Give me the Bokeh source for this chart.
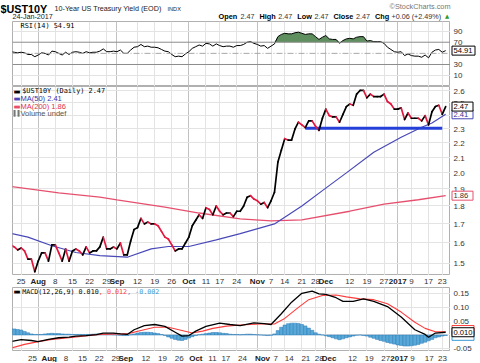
import numpy as np
import pandas as pd
from bokeh.plotting import figure
from bokeh.layouts import column, row
from bokeh.models import Range1d, FixedTicker, Label, Span, Grid
from bokeh.embed import file_html
from bokeh.resources import INLINE
from bokeh.core.properties import value

# ---------------- data ----------------
first_day = "2016-07-20"
last_day = "2017-01-24"
bond_market_holidays = ["2016-09-05", "2016-10-10", "2016-11-11", "2016-11-24",
                        "2016-12-26", "2017-01-02", "2017-01-16"]

close = [
    1.59, 1.58,                          # Jul 20-21
    1.565, 1.575, 1.56, 1.52, 1.52, 1.46,  # Jul 22-29
    1.51, 1.55, 1.55, 1.51, 1.59,        # Aug 1-5
    1.59, 1.55, 1.51, 1.57, 1.51,        # Aug 8-12
    1.56, 1.57, 1.56, 1.54, 1.58,        # Aug 15-19
    1.55, 1.56, 1.56, 1.58, 1.63,        # Aug 22-26
    1.57, 1.57, 1.58, 1.57, 1.60,        # Aug 29-Sep 2
    1.54, 1.54, 1.61, 1.67,              # Sep 6-9
    1.68, 1.73, 1.70, 1.71, 1.70,        # Sep 12-16
    1.70, 1.69, 1.66, 1.63, 1.62,        # Sep 19-23
    1.59, 1.56, 1.57, 1.57, 1.60,        # Sep 26-30
    1.63, 1.69, 1.72, 1.75, 1.73,        # Oct 3-7
    1.79, 1.78, 1.75, 1.80,              # Oct 11-14
    1.77, 1.75, 1.76, 1.76, 1.74,        # Oct 17-21
    1.77, 1.77, 1.80, 1.85, 1.86,        # Oct 24-28
    1.84, 1.83, 1.81, 1.82, 1.79,        # Oct 31-Nov 4
    1.83, 1.88, 2.07, 2.15,              # Nov 7-10
    2.23, 2.22, 2.22, 2.30, 2.35,        # Nov 14-18
    2.33, 2.31, 2.36, 2.36,              # Nov 21-25
    2.32, 2.29, 2.38, 2.45, 2.40,        # Nov 28-Dec 2
    2.39, 2.39, 2.35, 2.41, 2.47,        # Dec 5-9
    2.49, 2.48, 2.57, 2.60, 2.60,        # Dec 12-16
    2.54, 2.57, 2.55, 2.55, 2.55,        # Dec 19-23
    2.57, 2.51, 2.49, 2.45,              # Dec 27-30
    2.45, 2.46, 2.37, 2.42,              # Jan 3-6
    2.38, 2.38, 2.38, 2.36, 2.40,        # Jan 9-13
    2.33, 2.43, 2.47, 2.48,              # Jan 17-20
    2.41, 2.47]                          # Jan 23-24

rsi14 = [
    53, 52,
    51, 52, 51, 48, 48, 44,
    47, 51, 50, 47, 54,
    53, 50, 47, 52, 48,
    52, 53, 52, 50, 53,
    51, 52, 52, 54, 58,
    53, 53, 54, 53, 56,
    50, 50, 56, 61,
    62, 66, 62, 63, 61,
    61, 60, 57, 54, 53,
    48, 44, 45, 44, 49,
    53, 59, 62, 65, 63,
    68, 67, 63, 67,
    64, 62, 63, 63, 61,
    64, 64, 66, 70, 71,
    68, 66, 63, 64, 59,
    63, 67, 80, 84,
    86, 85, 85, 87, 88,
    86, 84, 85, 85,
    80, 75, 79, 82, 76,
    75, 75, 68, 73, 76,
    77, 76, 79, 80, 80,
    72, 73, 71, 71, 71,
    68, 61, 57, 53,
    52, 53, 46, 49,
    46, 45, 45, 43, 47,
    42, 52, 56, 57,
    52, 54.91]

macd_hist = [
    0.024, 0.022,
    0.020, 0.018, 0.013, 0.008, 0.004, 0.002,
    0.002, 0.002, 0.004, 0.005, 0.006,
    0.005, 0.005, 0.004, 0.003, 0.003,
    0.002, 0.002, 0.002, 0.002, 0.002,
    0.002, 0.003, 0.004, 0.004, 0.003,
    0.003, 0.002, 0.001, 0.000, -0.001,
    -0.002, -0.002, 0.001, 0.004,
    0.007, 0.009, 0.010, 0.010, 0.009,
    0.007, 0.005, 0.002, -0.002, -0.007,
    -0.012, -0.016, -0.019, -0.020, -0.016,
    -0.011, -0.006, -0.002, 0.001, 0.003,
    0.005, 0.007, 0.009, 0.009,
    0.008, 0.006, 0.005, 0.003, 0.002,
    0.002, 0.001, 0.002, 0.003, 0.003,
    0.002, 0.001, 0.000, -0.001, -0.002,
    -0.001, 0.004, 0.016, 0.028,
    0.036, 0.041, 0.043, 0.043, 0.042,
    0.038, 0.033, 0.025, 0.017,
    0.008, 0.003, 0.000, -0.003, -0.006,
    -0.010, -0.014, -0.017, -0.014, -0.010,
    -0.007, -0.004, -0.001, 0.000, -0.002,
    -0.004, -0.008, -0.012, -0.016, -0.020,
    -0.023, -0.027, -0.030, -0.033,
    -0.036, -0.038, -0.040, -0.040,
    -0.039, -0.037, -0.034, -0.030, -0.026,
    -0.021, -0.016, -0.010, -0.007,
    -0.004, -0.002]

ma50_dates = ["2016-07-20", "2016-07-27", "2016-08-05", "2016-08-16", "2016-08-25",
              "2016-09-07", "2016-09-16", "2016-09-23", "2016-10-03", "2016-10-14",
              "2016-10-25", "2016-11-08", "2016-11-21", "2016-11-30", "2016-12-09",
              "2016-12-21", "2017-01-04", "2017-01-12", "2017-01-18", "2017-01-24"]
ma50 = [1.650, 1.630, 1.586, 1.552, 1.537, 1.529, 1.570, 1.582, 1.582, 1.616,
        1.648, 1.700, 1.800, 1.890, 2.000, 2.136, 2.240, 2.313, 2.344, 2.410]

ma200_dates = ["2016-07-20", "2016-08-09", "2016-08-25", "2016-09-01", "2016-09-22",
               "2016-10-06", "2016-10-25", "2016-11-07", "2016-11-21", "2016-12-12",
               "2016-12-27", "2017-01-11", "2017-01-24"]
ma200 = [1.915, 1.877, 1.851, 1.835, 1.793, 1.760, 1.728, 1.717, 1.722, 1.770,
         1.810, 1.836, 1.860]

macd_dates = ["2016-07-20", "2016-07-25", "2016-07-28", "2016-08-01", "2016-08-04",
              "2016-08-09", "2016-08-12", "2016-08-16", "2016-08-19", "2016-08-24",
              "2016-08-26", "2016-08-31", "2016-09-02", "2016-09-07", "2016-09-09",
              "2016-09-14", "2016-09-19", "2016-09-22", "2016-09-27", "2016-09-29",
              "2016-10-03", "2016-10-05", "2016-10-11", "2016-10-17", "2016-10-20",
              "2016-10-25", "2016-10-31", "2016-11-03", "2016-11-07", "2016-11-10",
              "2016-11-16", "2016-11-21", "2016-11-25", "2016-11-29", "2016-12-01",
              "2016-12-06", "2016-12-08", "2016-12-13", "2016-12-16", "2016-12-21",
              "2016-12-28", "2017-01-04", "2017-01-10", "2017-01-13", "2017-01-17",
              "2017-01-19", "2017-01-24"]
macd_line = [-0.024, -0.017, -0.020, -0.024, -0.016, -0.010, -0.008, -0.004, -0.002, 0.001,
             0.007, 0.007, 0.004, 0.002, 0.019, 0.034, 0.038, 0.031, 0.010, -0.004,
             -0.002, 0.014, 0.031, 0.043, 0.038, 0.034, 0.044, 0.041, 0.038, 0.077,
             0.119, 0.151, 0.159, 0.149, 0.147, 0.135, 0.122, 0.122, 0.131, 0.122,
             0.103, 0.065, 0.019, 0.002, -0.008, 0.007, 0.010]

signal_dates = ["2016-07-20", "2016-07-26", "2016-08-01", "2016-08-05", "2016-08-12",
                "2016-08-18", "2016-08-25", "2016-09-01", "2016-09-07", "2016-09-13",
                "2016-09-19", "2016-09-23", "2016-09-29", "2016-10-04", "2016-10-07",
                "2016-10-13", "2016-10-19", "2016-10-25", "2016-11-02", "2016-11-08",
                "2016-11-14", "2016-11-18", "2016-11-23", "2016-11-30", "2016-12-06",
                "2016-12-09", "2016-12-15", "2016-12-21", "2016-12-28", "2017-01-04",
                "2017-01-10", "2017-01-13", "2017-01-19", "2017-01-24"]
signal_line = [-0.048, -0.034, -0.024, -0.016, -0.010, -0.004, 0.002, 0.004, 0.004, 0.016,
               0.028, 0.028, 0.016, 0.007, 0.014, 0.024, 0.032, 0.036, 0.040, 0.040,
               0.060, 0.100, 0.128, 0.143, 0.145, 0.138, 0.131, 0.128, 0.113, 0.083,
               0.046, 0.024, 0.012, 0.012]

support_dates = ["2016-11-22", "2017-01-23"]
support_level = [2.305, 2.305]

day_tick_dates = ["2016-07-25", "2016-08-08", "2016-08-15", "2016-08-22", "2016-08-29",
                  "2016-09-12", "2016-09-19", "2016-09-26", "2016-10-11", "2016-10-17",
                  "2016-10-24", "2016-11-07", "2016-11-14", "2016-11-21", "2016-11-28",
                  "2016-12-12", "2016-12-19", "2016-12-27", "2017-01-09", "2017-01-17",
                  "2017-01-23"]
day_tick_labels = ["25", "8", "15", "22", "29", "12", "19", "26", "11", "17", "24",
                   "7", "14", "21", "28", "12", "19", "27", "9", "17", "23"]
month_tick_dates = ["2016-08-01", "2016-09-01", "2016-10-03", "2016-11-01",
                    "2016-12-01", "2017-01-03"]
month_tick_labels = ["Aug", "Sep", "Oct", "Nov", "Dec", "2017"]

price_ticks = [1.5, 1.6, 1.7, 1.8, 1.9, 2.0, 2.1, 2.2, 2.3, 2.4, 2.5, 2.6]
price_tick_labels = ["1.5", "1.6", "1.7", "1.8", "1.9", "2.0", "2.1", "2.2", "2.3", "2.4", "2.5", "2.6"]
rsi_ticks = [10, 30, 70, 90]
rsi_tick_labels = ["10", "30", "70", "90"]
rsi_bands = [70, 30]
rsi_mid = 50
macd_ticks = [-0.05, 0.0, 0.05, 0.10, 0.15]
macd_tick_labels = ["-0.05", "0.00", "0.05", "0.10", "0.15"]

last_close, last_ma50, last_ma200 = 2.47, 2.41, 1.86
last_rsi = 54.91
last_macd, last_signal, last_hist = 0.010, 0.012, -0.002

# ---------------- trading-day axis ----------------
days = pd.bdate_range(first_day, last_day)
days = days[~days.isin(pd.to_datetime(bond_market_holidays))]
day_str = list(days.strftime("%Y-%m-%d"))
pos = {d: i for i, d in enumerate(day_str)}


def at(ds):
    return [pos[d] for d in ds]


n = len(close)
xs = np.arange(n)

# ---------------- layout constants ----------------
W = 480
LB, RB = 12, 30
MW = W - RB
H_HDR, H_RSI, H_PRICE, H_XL1, H_MACD, H_XL2 = 21, 65, 189, 12, 64, 11
FW = MW - LB
X0, X1 = 0.49, 128.41
ppu = FW / (X1 - X0)
xr = Range1d(X0, X1)
xr_strip = Range1d(X0 - LB / ppu, X1 + RB / ppu)
xr_strip_main = Range1d(X0 - LB / ppu, X1)

FONT = "Liberation Sans"
MONO = "DejaVu Sans Mono"
RED = "#e4173f"
BLUE_MA = "#4848b8"
RED_MA = "#e6506e"
GRID = "#e3e3e3"
MGRID = "#c2c2c2"

day_x = at(day_tick_dates)
month_x = at(month_tick_dates)


def panel(h, yr, ytype="linear"):
    p = figure(width=MW, height=h, x_range=xr, y_range=yr, y_axis_type=ytype,
               x_axis_location=None, y_axis_location=None,
               toolbar_location=None, output_backend="svg",
               min_border_left=LB, min_border_right=0,
               min_border_top=0, min_border_bottom=0)
    for g in list(p.center):
        if isinstance(g, Grid):
            g.visible = False
    p.outline_line_color = "#b0b0b0"
    p.add_layout(Grid(dimension=0, ticker=FixedTicker(ticks=day_x), grid_line_color=GRID))
    p.add_layout(Grid(dimension=0, ticker=FixedTicker(ticks=month_x), grid_line_color=MGRID))
    return p


def side(h, yr, ytype, ticks, labels, yoff=0):
    s = figure(width=RB, height=h, x_range=Range1d(0, RB), y_range=yr, y_axis_type=ytype,
               x_axis_location=None, y_axis_location=None, toolbar_location=None,
               output_backend="svg", min_border=0, outline_line_color=None)
    s.grid.visible = False
    s.text(x=[3] * len(ticks), y=ticks, text=labels, text_font=value(FONT),
           text_font_size="8px", text_baseline="middle", text_color="#333333",
           y_offset=yoff)
    return s


def box(s, y, border, w):
    s.rect(x=[1.5 + w / 2], y=[y], width=w, height=9, width_units="screen",
           height_units="screen", fill_color="white", line_color=border, line_width=1)


def tag(s, y, text, border, color="black", w=22):
    box(s, y, border, w)
    s.text(x=[3], y=[y], text=[text], text_font=value(FONT), text_font_size="7.6px",
           text_baseline="middle", text_color=color)


def leg(p, fh, x, off, text, color, font=FONT, size="7.5px", style="normal"):
    p.add_layout(Label(x=x, y=fh - off, x_units="screen", y_units="screen", text=text,
                       text_color=color, text_font=font, text_font_size=size,
                       text_font_style=style, text_baseline="middle"))


def strip(width, h, xrange, yv):
    s = figure(width=width, height=h, x_range=xrange, y_range=Range1d(0, 1),
               x_axis_location=None, y_axis_location=None, toolbar_location=None,
               output_backend="svg", min_border=0, outline_line_color=None)
    s.grid.visible = False
    s.text(x=day_x, y=[yv] * len(day_x), text=day_tick_labels, text_font=value(FONT),
           text_font_size="8px", text_align="center", text_baseline="middle",
           text_color="#333333")
    s.text(x=month_x, y=[yv] * len(month_x), text=month_tick_labels, text_font=value(FONT),
           text_font_size="8px", text_font_style="bold", text_align="center",
           text_baseline="middle", text_color="#222222")
    return s


# ---------------- header ----------------
hdr = figure(width=W, height=H_HDR, x_range=Range1d(0, W), y_range=Range1d(H_HDR, 0),
             x_axis_location=None, y_axis_location=None, toolbar_location=None,
             output_backend="svg", min_border=0, outline_line_color=None)
hdr.grid.visible = False
hdr.text(x=[0], y=[8.0], text=["$UST10Y"], text_font=value(FONT), text_font_size="10.8px",
         text_font_style="bold", text_baseline="middle", text_color="black")
hdr.text(x=[54], y=[8.4], text=["10-Year US Treasury Yield (EOD)"], text_font=value(FONT),
         text_font_size="7.2px", text_baseline="middle", text_color="#222222")
hdr.text(x=[167], y=[8.6], text=["INDX"], text_font=value(FONT),
         text_font_size="5.6px", text_baseline="middle", text_color="#222222")
hdr.text(x=[450], y=[6.2], text=["\u00a9StockCharts.com"], text_font=value(FONT),
         text_font_size="7.3px", text_align="right", text_baseline="middle", text_color="#777777")
hdr.text(x=[12], y=[15.8], text=["24-Jan-2017"], text_font=value(FONT),
         text_font_size="7.2px", text_baseline="middle", text_color="#222222")
hdr.text(x=[218, 259, 296.8, 333, 374.4], y=[16.0] * 5,
         text=["Open", "High", "Low", "Close", "Chg"], text_font=value(FONT),
         text_font_size="7.3px", text_font_style="bold", text_baseline="middle",
         text_color="black")
hdr.text(x=[240, 277.8, 314, 355.4, 391], y=[16.0] * 5,
         text=["2.47", "2.47", "2.47", "2.47", "+0.06 (+2.49%)"], text_font=value(FONT),
         text_font_size="7.2px", text_baseline="middle", text_color="#333333")
hdr.text(x=[444.5], y=[15.6], text=["\u25b2"], text_font=value("DejaVu Sans"),
         text_font_size="5.5px", text_baseline="middle", text_color="#2f9a2f")

# ---------------- RSI ----------------
rsi_y = Range1d(-9.5, 107.2)
rsi = panel(H_RSI, rsi_y)
rsi.add_layout(Grid(dimension=1, ticker=FixedTicker(ticks=[10, 90]), grid_line_color=GRID))
for lv in rsi_bands:
    rsi.add_layout(Span(location=lv, dimension="width", line_color="#8c8c8c", line_width=1))
rsi.add_layout(Span(location=rsi_mid, dimension="width", line_color="#a8a8a8",
                    line_width=1, line_dash="6 2 1 2"))
rsi_arr = np.array(rsi14, dtype=float)
rsi.varea(x=xs, y1=70, y2=np.maximum(rsi_arr, 70), fill_color="#5f8f5f")
rsi.line(xs, rsi_arr, line_color="black", line_width=1)
leg(rsi, H_RSI, 8, 4.5, "RSI(14) 54.91", "black", font=MONO, size="6.9px")
rsi_s = side(H_RSI, rsi_y, "linear", rsi_ticks, rsi_tick_labels)
tag(rsi_s, last_rsi, "54.91", "black", w=23)

# ---------------- price ----------------
pr_y = Range1d(1.4425, 2.633)
pr = panel(H_PRICE, pr_y, "log")
pr.add_layout(Grid(dimension=1, ticker=FixedTicker(ticks=price_ticks), grid_line_color=GRID))
pr.line(at(ma200_dates), ma200, line_color=RED_MA, line_width=1.3)
pr.line(at(ma50_dates), ma50, line_color=BLUE_MA, line_width=1.2)
pr.line(at(support_dates), support_level, line_color="#2440d8", line_width=3)
c = np.array(close)
seg_col = np.where(np.diff(c) < 0, RED, "black")
pr.segment(x0=xs[:-1], y0=c[:-1], x1=xs[1:], y1=c[1:], line_color=seg_col,
           line_width=1.7, line_cap="round")
leg(pr, H_PRICE, 1, 4.5, "\u25ac", "black", font="DejaVu Sans", size="7.5px")
leg(pr, H_PRICE, 9.7, 4.5, "$UST10Y (Daily) 2.47", "black", font=MONO, size="6.9px")
leg(pr, H_PRICE, 1, 12, "\u25ac", BLUE_MA, font="DejaVu Sans", size="7.5px")
leg(pr, H_PRICE, 8, 12, "MA(50) 2.41", "#3434a8")
leg(pr, H_PRICE, 1, 19.7, "\u25ac", RED_MA, font="DejaVu Sans", size="7.5px")
leg(pr, H_PRICE, 8, 19.7, "MA(200) 1.86", "#e0304a")
leg(pr, H_PRICE, 1, 26.5, "\u258c\u258c", "#777777", size="5.5px")
leg(pr, H_PRICE, 8, 26.5, "Volume undef", "#555555")
pr_s = side(H_PRICE, pr_y, "log", price_ticks, price_tick_labels, yoff=0.6)
tag(pr_s, last_ma200, "1.86", RED_MA, "#333333", w=21)
tag(pr_s, last_ma50, "2.41", BLUE_MA, "#333399", w=21)
tag(pr_s, last_close, "2.47", "black", w=21)

xl1 = strip(W, H_XL1, xr_strip, 0.54)

# ---------------- MACD (+ its date labels, with a tall value column) ----------------
md_y = Range1d(-0.0598, 0.1721)
md = panel(H_MACD, md_y)
md.add_layout(Grid(dimension=1, ticker=FixedTicker(ticks=macd_ticks), grid_line_color=GRID))
md.vbar(x=xs, top=macd_hist, bottom=0, width=1.0, fill_color="#58a8d8",
        line_color="#2c7bb6", line_width=0.5)
md.line(at(signal_dates), signal_line, line_color="#ff3c3c", line_width=1.1)
md.line(at(macd_dates), macd_line, line_color="black", line_width=1.3)
cw = 0.602 * 6.7
leg(md, H_MACD, 1, 4.2, "\u25ac", "black", font="DejaVu Sans", size="7.5px")
leg(md, H_MACD, 9.7, 4.2, "MACD(12,26,9) 0.010", "black", font=MONO, size="6.7px")
leg(md, H_MACD, 9.7 + 19 * cw, 4.2, ", 0.012", "#ff3c3c", font=MONO, size="6.7px")
leg(md, H_MACD, 9.7 + 26 * cw, 4.2, ", -0.002", "#3a9ad6", font=MONO, size="6.7px")
xl2 = strip(MW, H_XL2, xr_strip_main, 0.5)
md_side_y = Range1d(-0.0996, 0.1721)
md_s = side(H_MACD + H_XL2, md_side_y, "linear", macd_ticks, macd_tick_labels)
box(md_s, last_signal + 0.006, "#ff3c3c", 22)
box(md_s, last_hist - 0.001, "#3a9ad6", 22)
tag(md_s, last_macd, "0.010", "black", w=22)

layout = column(hdr,
                row(rsi, rsi_s, spacing=0),
                row(pr, pr_s, spacing=0),
                xl1,
                row(column(md, xl2, spacing=0), md_s, spacing=0),
                spacing=0)
open("out.html", "w").write(file_html(layout, INLINE))
